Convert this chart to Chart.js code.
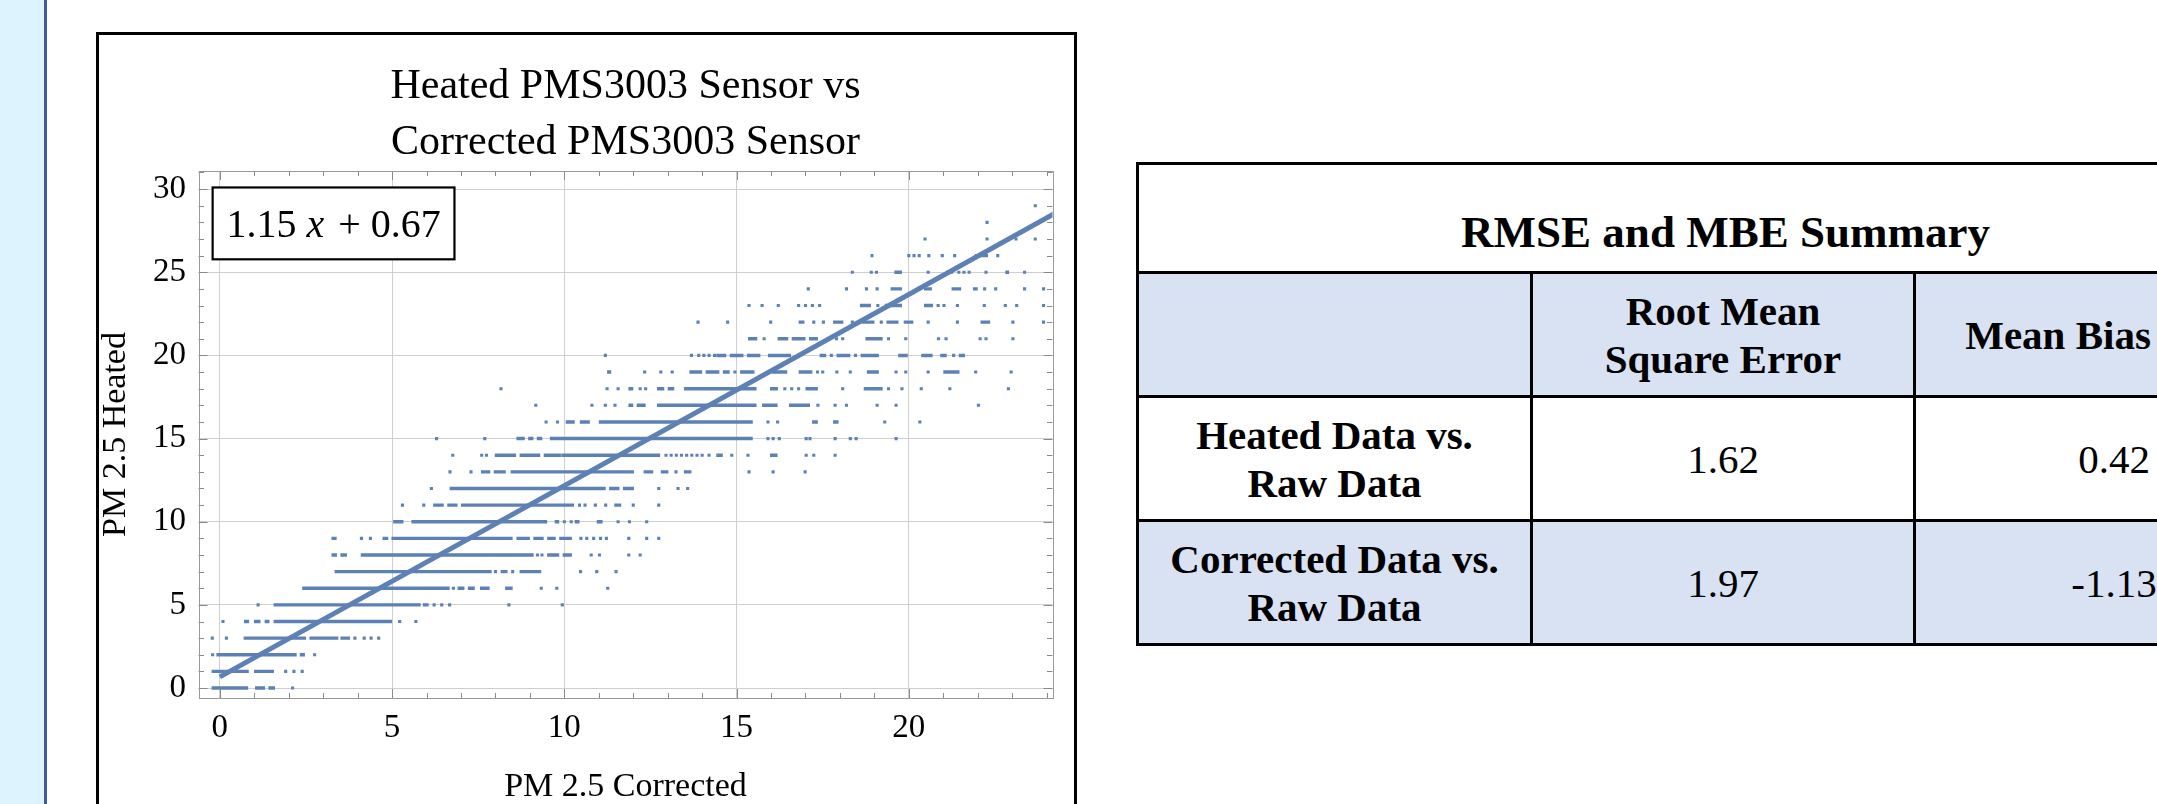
<!DOCTYPE html>
<html>
<head>
<meta charset="utf-8">
<script src="https://cdn.jsdelivr.net/npm/chart.js@4.4.1/dist/chart.umd.min.js"></script>
<style>
  html, body { margin: 0; padding: 0; width: 2157px; height: 804px; overflow: hidden; background: #fff; }
  #strip { position: absolute; left: 0; top: 0; width: 44px; height: 804px; background: #ddf3fd; border-right: 3px solid #3c5d9b; }
  #chartBox { position: absolute; left: 96px; top: 32px; width: 981px; height: 806px; border: 3px solid #000; box-sizing: border-box; }
  #chartBox canvas { display: block; }
  #summary { position: absolute; left: 1136px; top: 162px; border-collapse: collapse; table-layout: fixed; width: 1176px;
             font-family: 'Liberation Serif', serif; font-size: 41px; color: #000; }
  #summary td, #summary th { border: 3px solid #000; text-align: center; vertical-align: middle; padding: 0; }
  #summary th { font-weight: bold; }
  #summary .ttl { height: 93px; font-size: 45px; line-height: 52px; background: #fff; vertical-align: bottom; padding-bottom: 13px; }
  #summary .blue { background: #d9e2f3; }
  #summary tr.row td, #summary tr.row th { height: 121px; }
  #summary .head th { line-height: 52px; }
  #summary .row th { line-height: 48px; }
</style>
</head>
<body>
<div id="strip"></div>
<div id="chartBox"><canvas id="grafico" width="975" height="800"></canvas></div>
<table id="summary"></table>
<script>
/*
  DATA
*/
const chartTitle = ['Heated PMS3003 Sensor vs', 'Corrected PMS3003 Sensor'];
const xLabel = 'PM 2.5 Corrected';
const yLabel = 'PM 2.5 Heated';

const xTicks = [0, 5, 10, 15, 20];
const yTicks = [0, 5, 10, 15, 20, 25, 30];
const xMinorTicks = [0, 1, 2, 3, 4, 5, 6, 7, 8, 9, 10, 11, 12, 13, 14, 15, 16, 17, 18, 19, 20, 21, 22, 23, 24];
const yMinorTicks = [0, 1, 2, 3, 4, 5, 6, 7, 8, 9, 10, 11, 12, 13, 14, 15, 16, 17, 18, 19, 20, 21, 22, 23, 24, 25, 26, 27, 28, 29, 30, 31];
const xRange = [-0.62, 24.17];
const yRange = [-0.6, 31.09];

// regression shown in the box
const fitSlope = 1.15;
const fitIntercept = 0.67;
const fitX = [0, 25];

// dense runs of readings: [heated, corrected from, corrected to]
const runs = [
  [0, -0.24, 0.82], [0, 1.02, 1.31], [0, 1.41, 1.6],
  [1, -0.24, 0.84], [1, 0.99, 1.57],
  [2, -0.1, 2.23], [2, 2.32, 2.47],
  [3, 0.69, 2.5], [3, 2.6, 3.44], [3, 3.5, 3.78],
  [4, 0.7, 0.85], [4, 0.99, 1.18], [4, 1.3, 1.44], [4, 1.56, 5.0],
  [5, 1.56, 5.83], [5, 5.89, 6.06],
  [6, 2.39, 6.67], [6, 6.9, 7.1], [6, 7.2, 7.4], [6, 7.55, 7.83], [6, 8.28, 8.5],
  [7, 3.33, 7.89], [7, 8.15, 8.35], [7, 8.7, 9.33],
  [8, 3.24, 3.4], [8, 3.5, 3.69], [8, 4.09, 9.11], [8, 9.5, 9.85], [8, 9.95, 10.22],
  [9, 3.24, 3.39], [9, 4.72, 4.89], [9, 4.98, 8.5], [9, 8.61, 9.0], [9, 9.1, 9.4], [9, 9.5, 9.75], [9, 9.85, 10.22],
  [10, 5.03, 5.33], [10, 5.56, 9.5], [10, 9.72, 9.85], [10, 10.3, 10.44], [10, 10.94, 11.11],
  [11, 6.19, 6.5], [11, 6.6, 6.9], [11, 7.0, 7.33], [11, 7.33, 10.28], [11, 11.45, 11.65],
  [12, 6.67, 11.2], [12, 11.3, 11.6], [12, 11.7, 12.02],
  [13, 7.58, 7.85], [13, 7.95, 8.3], [13, 8.44, 12.02], [13, 12.3, 12.58], [13, 12.8, 13.02], [13, 13.47, 13.69],
  [14, 7.98, 8.6], [14, 8.7, 9.3], [14, 9.4, 9.9], [14, 9.91, 12.78], [14, 14.41, 14.6], [14, 15.97, 16.19],
  [15, 8.61, 8.85], [15, 8.95, 9.1], [15, 9.2, 9.36], [15, 9.58, 15.47],
  [16, 10.04, 10.3], [16, 10.45, 10.74], [16, 11.0, 15.47], [16, 17.19, 17.36], [16, 17.8, 17.96],
  [17, 11.86, 12.0], [17, 12.1, 12.36], [17, 12.69, 15.58], [17, 15.74, 16.19], [17, 16.52, 17.13],
  [18, 11.86, 12.0], [18, 12.69, 12.9], [18, 13.0, 13.19], [18, 13.47, 15.58], [18, 15.97, 16.2], [18, 17.0, 17.36], [18, 18.69, 19.24],
  [19, 11.24, 11.36], [19, 13.63, 14.0], [19, 14.1, 14.5], [19, 14.6, 14.8], [19, 15.1, 15.52], [19, 16.02, 16.47], [19, 16.8, 17.2], [19, 18.78, 19.13], [19, 21.0, 21.47],
  [20, 14.41, 14.7], [20, 14.8, 15.2], [20, 15.3, 15.69], [20, 15.91, 16.58], [20, 17.41, 17.6], [20, 17.9, 18.3], [20, 18.6, 19.13], [20, 19.69, 19.97], [20, 20.36, 20.69], [20, 20.91, 21.1], [20, 21.45, 21.63],
  [21, 15.33, 15.6], [21, 16.19, 16.5], [21, 16.6, 17.0], [21, 17.1, 17.36], [21, 18.74, 19.24],
  [22, 16.8, 16.97], [22, 17.8, 18.1], [22, 18.63, 19.0], [22, 19.35, 19.7], [22, 19.85, 20.13], [22, 22.08, 22.36],
  [23, 18.58, 18.9], [23, 19.3, 19.8], [23, 20.44, 20.7],
  [24, 19.47, 19.8], [24, 20.44, 20.67], [24, 21.24, 21.52], [24, 21.86, 22.0],
  [25, 19.58, 19.8], [25, 22.8, 22.91],
  [26, 21.91, 22.3]
];

// isolated readings: [corrected, heated]
const dots = [
  [2.11, 0],
  [1.91, 1], [2.15, 1], [2.39, 1],
  [-0.21, 2], [2.75, 2],
  [-0.22, 3], [0.19, 3], [3.92, 3], [4.19, 3], [4.39, 3], [4.61, 3],
  [0.09, 4], [5.22, 4], [5.69, 4],
  [1.11, 5], [6.22, 5], [6.44, 5], [6.67, 5], [8.39, 5], [9.94, 5],
  [6.78, 6], [9.33, 6], [9.78, 6], [11.26, 6],
  [8.0, 7], [8.5, 7], [10.47, 7], [10.94, 7], [11.5, 7],
  [9.22, 8], [9.35, 8], [10.78, 8], [11.02, 8], [11.87, 8], [12.2, 8],
  [4.11, 9], [4.37, 9], [10.48, 9], [10.65, 9], [10.85, 9], [11.05, 9], [11.22, 9], [11.87, 9], [12.39, 9], [12.74, 9],
  [10.0, 10], [10.2, 10], [11.56, 10], [11.89, 10], [12.39, 10],
  [5.3, 11], [5.92, 11], [10.44, 11], [10.6, 11], [10.9, 11], [11.2, 11], [12.0, 11], [12.74, 11],
  [6.14, 12], [12.74, 12], [13.3, 12], [13.58, 12],
  [6.68, 13], [7.29, 13], [13.24, 13], [15.36, 13], [16.06, 13], [16.99, 13],
  [6.76, 14], [7.6, 14], [7.74, 14], [12.95, 14], [13.1, 14], [13.25, 14], [13.4, 14], [13.55, 14], [13.7, 14], [13.85, 14], [14.0, 14], [14.2, 14],
  [14.86, 14], [15.33, 14], [17.02, 14], [17.24, 14], [17.86, 14],
  [6.29, 15], [7.69, 15], [15.91, 15], [16.06, 15], [16.24, 15], [17.02, 15], [17.13, 15], [17.86, 15], [18.3, 15], [18.47, 15], [19.63, 15],
  [9.47, 16], [9.8, 16], [15.91, 16], [16.19, 16], [19.3, 16], [20.32, 16],
  [9.17, 17], [10.8, 17], [11.19, 17], [11.47, 17], [17.36, 17], [17.86, 17], [18.19, 17], [19.08, 17], [19.63, 17], [22.02, 17],
  [8.16, 18], [11.24, 18], [11.56, 18], [12.2, 18], [12.36, 18], [16.4, 18], [16.6, 18], [16.8, 18], [18.08, 18], [19.41, 18], [19.8, 18], [20.36, 18], [21.19, 18], [22.89, 18],
  [12.33, 19], [12.8, 19], [13.13, 19], [14.95, 19], [17.35, 19], [17.5, 19], [17.91, 19], [18.3, 19], [19.63, 19], [19.91, 19], [20.56, 19], [21.94, 19], [22.97, 19],
  [11.19, 20], [13.69, 20], [13.9, 20], [14.05, 20], [14.2, 20], [14.36, 20], [17.75, 20], [18.45, 20], [21.3, 20],
  [15.8, 21], [17.69, 21], [17.9, 21], [18.08, 21], [19.41, 21], [19.91, 21], [20.86, 21], [21.08, 21], [22.07, 21], [22.24, 21], [23.02, 21],
  [13.88, 22], [14.74, 22], [15.99, 22], [17.24, 22], [17.52, 22], [18.36, 22], [19.2, 22], [20.56, 22], [21.41, 22], [23.02, 22], [23.91, 22],
  [15.36, 23], [15.74, 23], [16.21, 23], [16.8, 23], [17.0, 23], [17.2, 23], [17.41, 23], [19.1, 23], [20.85, 23], [21.02, 23], [21.41, 23], [22.19, 23], [22.8, 23], [23.13, 23], [23.91, 23],
  [17.08, 24], [18.19, 24], [18.77, 24], [19.08, 24], [22.2, 24], [22.52, 24], [23.36, 24], [23.91, 24],
  [18.36, 25], [18.91, 25], [19.06, 25], [20.56, 25], [21.24, 25], [21.45, 25], [21.6, 25], [21.75, 25], [22.24, 25], [23.36, 25],
  [18.93, 26], [20.0, 26], [20.15, 26], [20.3, 26], [20.58, 26], [20.97, 26], [21.33, 26], [22.58, 26],
  [20.47, 27], [22.27, 27], [23.11, 27], [23.67, 27],
  [22.27, 28],
  [23.67, 29]
];

// summary table
const tableTitle = 'RMSE and MBE Summary';
const colHeads = [['Root Mean', 'Square Error'], ['Mean Bias Error']];
const rowLabels = [['Heated Data vs.', 'Raw Data'], ['Corrected Data vs.', 'Raw Data']];
const rmseValues = ['1.62', '1.97'];
const mbeValues = ['0.42', '-1.13'];

/*
  CHART
*/
const azul = '#5e81b5';
const serif = "'Liberation Serif', 'Times New Roman', serif";

const runPoints = [];
runs.forEach(([h, c1, c2]) => {
  runPoints.push({ x: c1, y: h }, { x: c2, y: h }, { x: c2, y: null });
});
const dotPoints = dots.map(([c, h]) => ({ x: c, y: h }));
const fitPoints = fitX.map(v => ({ x: v, y: fitSlope * v + fitIntercept }));

const titlePlugin = {
  id: 'titlePlugin',
  afterDraw(chart) {
    const { ctx, chartArea: a } = chart;
    ctx.save();
    ctx.fillStyle = '#000';
    ctx.font = '42px ' + serif;
    ctx.textAlign = 'center';
    ctx.textBaseline = 'alphabetic';
    const cx = (a.left + a.right) / 2;
    ctx.fillText(chartTitle[0], cx, 63);
    ctx.fillText(chartTitle[1], cx, 119);
    ctx.restore();
  }
};

const frameTicks = {
  id: 'frameTicks',
  afterDatasetsDraw(chart) {
    const { ctx, chartArea: a, scales: { x, y } } = chart;
    ctx.save();
    ctx.strokeStyle = '#8a8a8a';
    ctx.lineWidth = 1;
    ctx.beginPath();
    xMinorTicks.forEach(v => {
      const px = Math.round(x.getPixelForValue(v)) + 0.5;
      const len = xTicks.includes(v) ? 9 : 5;
      ctx.moveTo(px, a.bottom); ctx.lineTo(px, a.bottom - len);
      ctx.moveTo(px, a.top); ctx.lineTo(px, a.top + len);
    });
    yMinorTicks.forEach(v => {
      const py = Math.round(y.getPixelForValue(v)) + 0.5;
      const len = yTicks.includes(v) ? 9 : 5.5;
      ctx.moveTo(a.left, py); ctx.lineTo(a.left + len, py);
      ctx.moveTo(a.right, py); ctx.lineTo(a.right - len, py);
    });
    ctx.stroke();
    ctx.strokeStyle = '#999';
    ctx.strokeRect(Math.round(a.left) + 0.5, Math.round(a.top) + 0.5, Math.round(a.right - a.left), Math.round(a.bottom - a.top));
    ctx.restore();
  }
};

const equationBox = {
  id: 'equationBox',
  afterDraw(chart) {
    const { ctx, scales: { x, y } } = chart;
    const l = x.getPixelForValue(-0.21), r = x.getPixelForValue(6.81);
    const t = y.getPixelForValue(30.1), b = y.getPixelForValue(25.78);
    ctx.save();
    ctx.fillStyle = '#fff';
    ctx.fillRect(l, t, r - l, b - t);
    ctx.strokeStyle = '#000';
    ctx.lineWidth = 2.2;
    ctx.strokeRect(l, t, r - l, b - t);
    const regular = '40px ' + serif, italic = 'italic 40px ' + serif;
    const parts = [
      [fitSlope.toFixed(2), regular, 10],
      ['x', italic, 14],
      ['+', regular, 10],
      [fitIntercept.toFixed(2), regular, 0]
    ];
    let total = 0;
    parts.forEach(p => { ctx.font = p[1]; total += ctx.measureText(p[0]).width + p[2]; });
    let cx = (l + r) / 2 - total / 2;
    const base = (t + b) / 2 + 14;
    ctx.fillStyle = '#000';
    ctx.textBaseline = 'alphabetic';
    parts.forEach(p => {
      ctx.font = p[1];
      ctx.fillText(p[0], cx, base);
      cx += ctx.measureText(p[0]).width + p[2];
    });
    ctx.restore();
  }
};

new Chart(document.getElementById('grafico'), {
  type: 'scatter',
  data: {
    datasets: [
      {
        data: fitPoints,
        showLine: true,
        borderColor: azul,
        borderWidth: 5,
        pointRadius: 0
      },
      {
        data: runPoints,
        showLine: true,
        spanGaps: false,
        borderColor: azul,
        borderWidth: 3.4,
        borderCapStyle: 'butt',
        pointRadius: 0
      },
      {
        data: dotPoints,
        pointStyle: 'rect',
        pointRadius: 2.2,
        backgroundColor: azul,
        borderWidth: 0
      }
    ]
  },
  options: {
    responsive: false,
    animation: false,
    layout: { padding: { top: 136, right: 21.5, left: 0, bottom: 0 } },
    plugins: { legend: { display: false }, tooltip: { enabled: false } },
    scales: {
      x: {
        type: 'linear',
        min: xRange[0],
        max: xRange[1],
        afterBuildTicks: s => { s.ticks = xTicks.map(v => ({ value: v })); },
        afterFit: s => { s.height = 137; },
        grid: { color: '#cfcfcf', lineWidth: 1, drawTicks: false },
        border: { display: false },
        ticks: { color: '#000', font: { family: serif, size: 33 }, padding: 11, maxRotation: 0 },
        title: { display: true, text: xLabel, color: '#000', font: { family: serif, size: 34, lineHeight: 1 }, padding: { top: 0, bottom: 31 } }
      },
      y: {
        type: 'linear',
        min: yRange[0],
        max: yRange[1],
        afterBuildTicks: s => { s.ticks = yTicks.map(v => ({ value: v })); },
        afterFit: s => { s.width = 99.5; },
        grid: { color: '#cfcfcf', lineWidth: 1, drawTicks: false },
        border: { display: false },
        ticks: { color: '#000', font: { family: serif, size: 33 }, padding: 12.5 },
        title: { display: true, text: yLabel, color: '#000', font: { family: serif, size: 34, lineHeight: 1 }, padding: { top: 0, bottom: 0 } }
      }
    }
  },
  plugins: [titlePlugin, frameTicks, equationBox]
});

/*
  TABLE
*/
const tabla = document.getElementById('summary');
const cg = document.createElement('colgroup');
[394, 383, 399].forEach(w => { const c = document.createElement('col'); c.style.width = w + 'px'; cg.appendChild(c); });
tabla.appendChild(cg);

const addCell = (tr, tag, lines, cls) => {
  const cell = document.createElement(tag);
  lines.forEach((t, i) => {
    if (i) cell.appendChild(document.createElement('br'));
    cell.appendChild(document.createTextNode(t));
  });
  if (cls) cell.className = cls;
  tr.appendChild(cell);
  return cell;
};

const tr0 = document.createElement('tr');
addCell(tr0, 'th', [tableTitle], 'ttl').colSpan = 3;
tabla.appendChild(tr0);

const tr1 = document.createElement('tr');
tr1.className = 'row head blue';
addCell(tr1, 'td', []);
colHeads.forEach(h => addCell(tr1, 'th', h));
tabla.appendChild(tr1);

rowLabels.forEach((lab, i) => {
  const tr = document.createElement('tr');
  tr.className = 'row' + (i % 2 ? ' blue' : '');
  addCell(tr, 'th', lab);
  addCell(tr, 'td', [rmseValues[i]]);
  addCell(tr, 'td', [mbeValues[i]]);
  tabla.appendChild(tr);
});
</script>
</body>
</html>
